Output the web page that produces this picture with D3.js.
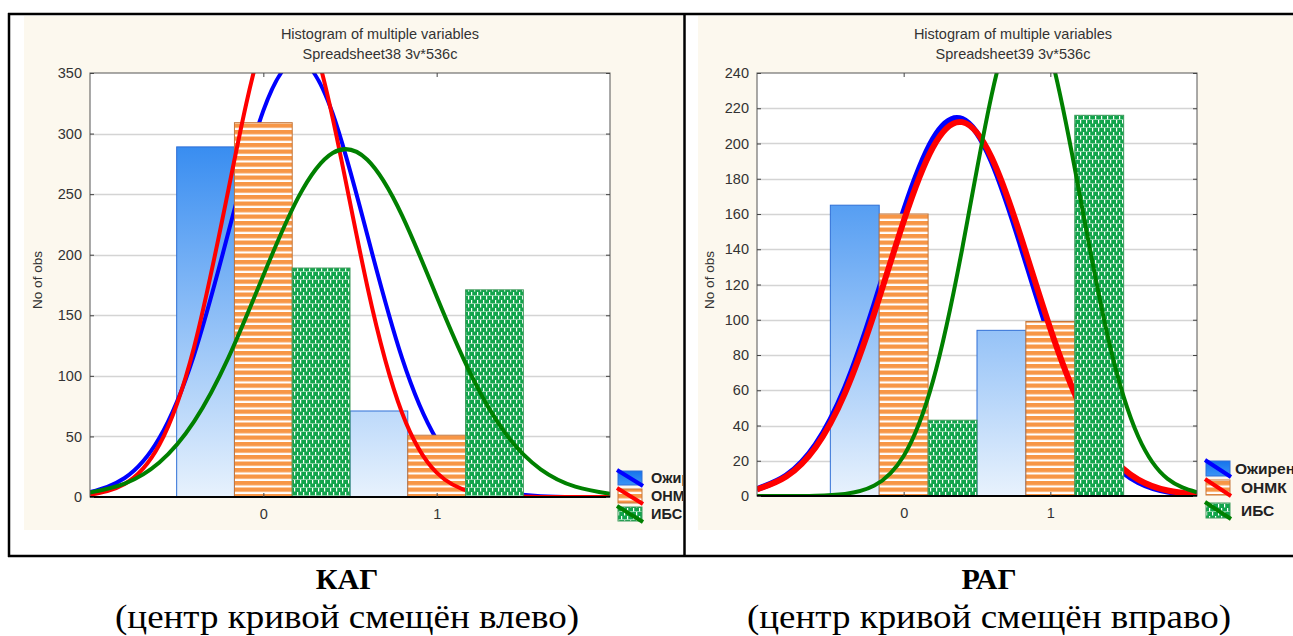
<!DOCTYPE html>
<html>
<head>
<meta charset="utf-8">
<script src="https://cdn.jsdelivr.net/npm/d3@7"></script>
<style>
  body { margin: 0; background: #fff; }
  svg { display: block; }
</style>
</head>
<body>
<svg id="chart" width="1293" height="636"></svg>
<script>
const seriesNames = ['Ожирение', 'ОНМК', 'ИБС']
const bins = [0, 1]
const curveX = [-1, -0.8, -0.6, -0.4, -0.2, 0, 0.2, 0.4, 0.6, 0.8, 1, 1.2, 1.4, 1.6, 1.8, 2]

// КАГ (left)
const kagTicks = [0, 50, 100, 150, 200, 250, 300, 350]
const kagObesity = [289, 71]
const kagStroke = [309, 51]
const kagIhd = [189, 171]
const kagObesityFit = [4.0, 15.7, 48.7, 117.2, 219.3, 318.9, 360.4, 316.6, 216.2, 114.8, 47.4, 15.2, 3.8, 0.7, 0.1, 0.0]
const kagStrokeFit = [2.0, 10.8, 43.1, 123.5, 254.8, 378.8, 405.6, 312.8, 173.8, 69.6, 20.1, 4.2, 0.6, 0.1, 0.0, 0.0]
const kagIhdFit = [3.7, 11.1, 28.5, 62.2, 115.5, 182.9, 246.9, 284.0, 278.4, 232.5, 165.5, 100.4, 51.9, 22.9, 8.6, 2.7]

// РАГ (right)
const ragTicks = [0, 20, 40, 60, 80, 100, 120, 140, 160, 180, 200, 220, 240]
const ragObesity = [165, 94]
const ragStroke = [160, 99]
const ragIhd = [43, 216]
const ragObesityFit = [3.9, 11.6, 29.1, 61.2, 108.4, 161.5, 202.6, 213.9, 190.0, 142.1, 89.5, 47.4, 21.1, 7.9, 2.5, 0.7]
const ragStrokeFit = [3.8, 11.1, 27.7, 58.4, 103.8, 155.9, 197.9, 212.1, 192.0, 146.8, 94.9, 51.8, 23.9, 9.3, 3.1, 0.9]
const ragIhdFit = [0.0, 0.0, 0.2, 1.2, 5.9, 22.7, 65.3, 140.7, 227.6, 275.9, 250.9, 171.1, 87.5, 33.6, 9.7, 2.1]

const svg = d3.select('#chart')
const defs = svg.append('defs')
const sans = 'Liberation Sans, Arial, sans-serif'
const serif = 'Liberation Serif, Times New Roman, serif'

svg.append('rect').attr('width', 1293).attr('height', 636).attr('fill', '#fff')

// orange horizontal stripes
const stripes = defs.append('pattern').attr('id', 'stripes')
  .attr('patternUnits', 'userSpaceOnUse').attr('width', 8).attr('height', 6.5)
stripes.append('rect').attr('width', 8).attr('height', 6.5).attr('fill', '#fff')
stripes.append('rect').attr('width', 8).attr('height', 4.3).attr('fill', '#f79646')

// green bricks
const bricks = defs.append('pattern').attr('id', 'bricks')
  .attr('patternUnits', 'userSpaceOnUse').attr('width', 6).attr('height', 8)
bricks.append('rect').attr('width', 6).attr('height', 8).attr('fill', '#12a44c')
bricks.append('rect').attr('x', 0).attr('y', 0).attr('width', 1.2).attr('height', 3.5).attr('fill', '#fff')
bricks.append('rect').attr('x', 3).attr('y', 4).attr('width', 1.2).attr('height', 3.5).attr('fill', '#fff')
bricks.append('rect').attr('x', 0).attr('y', 7.4).attr('width', 6).attr('height', 0.6).attr('fill', '#c9efd6')

const legendBlue = defs.append('linearGradient').attr('id', 'legend-blue')
  .attr('x1', 0).attr('x2', 0).attr('y1', 0).attr('y2', 1)
legendBlue.append('stop').attr('offset', 0).attr('stop-color', '#1673ec')
legendBlue.append('stop').attr('offset', 1).attr('stop-color', '#3a95f6')

const lineColors = ['#0000ff', '#ff0000', '#008000']
const barStrokes = ['#2f6fd6', '#c5763a', '#3f9a5c']

function drawPanel(p) {
  const g = svg.append('g')
  g.append('rect').attr('x', p.bgX).attr('y', 16).attr('width', p.bgW).attr('height', 514).attr('fill', '#fcf8ee')

  const x = d3.scaleLinear().domain([-1, 2]).range([p.left, p.right])
  const y = d3.scaleLinear().domain([0, p.yMax]).range([p.bottom, p.top])

  g.append('text').attr('x', p.titleX).attr('y', 39).attr('text-anchor', 'middle')
    .attr('font-family', sans).attr('font-size', 14.5).attr('fill', '#333')
    .text('Histogram of multiple variables')
  g.append('text').attr('x', p.titleX).attr('y', 59).attr('text-anchor', 'middle')
    .attr('font-family', sans).attr('font-size', 14.5).attr('fill', '#333')
    .text(p.subtitle)

  g.append('rect').attr('x', p.left).attr('y', p.top)
    .attr('width', p.right - p.left).attr('height', p.bottom - p.top).attr('fill', '#fff')

  g.append('g').selectAll('line').data(p.yTicks.slice(1, -1)).join('line')
    .attr('x1', p.left).attr('x2', p.right)
    .attr('y1', d => Math.round(y(d)) + 0.5).attr('y2', d => Math.round(y(d)) + 0.5)
    .attr('stroke', '#d4d4d4').attr('stroke-width', 1.5)

  const blueId = 'blue-' + p.id
  const grad = defs.append('linearGradient').attr('id', blueId)
    .attr('gradientUnits', 'userSpaceOnUse')
    .attr('x1', 0).attr('x2', 0).attr('y1', p.top).attr('y2', p.bottom)
  grad.append('stop').attr('offset', 0).attr('stop-color', '#1478ee')
  grad.append('stop').attr('offset', 1).attr('stop-color', '#e8f2fd')

  const clipId = 'clip-' + p.id
  defs.append('clipPath').attr('id', clipId).append('rect')
    .attr('x', p.left).attr('y', p.top).attr('width', p.right - p.left).attr('height', p.bottom - p.top)
  const plot = g.append('g').attr('clip-path', `url(#${clipId})`)

  const fills = [`url(#${blueId})`, 'url(#stripes)', 'url(#bricks)']
  const barW = x(1 / 3) - x(0)
  const line = d3.line().x((d, i) => x(curveX[i])).y(d => y(d)).curve(d3.curveNatural)

  p.counts.forEach((counts, s) => {
    plot.append('g').selectAll('rect').data(counts).join('rect')
      .attr('x', (d, b) => x(bins[b] - 0.5 + s / 3))
      .attr('width', barW)
      .attr('y', d => y(d))
      .attr('height', d => y(0) - y(d))
      .attr('fill', fills[s])
      .attr('stroke', barStrokes[s]).attr('stroke-width', 1)
    plot.append('path').datum(p.fits[s]).attr('d', line)
      .attr('fill', 'none').attr('stroke', lineColors[s])
      .attr('stroke-width', p.lineW[s]).attr('stroke-linejoin', 'round')
  })

  // frame and axes
  g.append('rect').attr('x', p.left).attr('y', p.top)
    .attr('width', p.right - p.left).attr('height', p.bottom - p.top)
    .attr('fill', 'none').attr('stroke', '#555')
  g.append('line').attr('x1', p.left).attr('x2', p.right).attr('y1', p.bottom).attr('y2', p.bottom)
    .attr('stroke', '#000').attr('stroke-width', 1.8)

  const yAxis = g.append('g').attr('transform', `translate(${p.left},0)`)
    .call(d3.axisLeft(y).tickValues(p.yTicks).tickSize(-4).tickPadding(8))
  yAxis.select('.domain').remove()
  g.append('g').attr('transform', `translate(${p.right},0)`)
    .call(d3.axisRight(y).tickValues(p.yTicks).tickSize(-4).tickFormat(''))
    .select('.domain').remove()
  const xAxis = g.append('g').attr('transform', `translate(0,${p.bottom})`)
    .call(d3.axisBottom(x).tickValues(bins).tickFormat(d3.format('d')).tickSize(-4).tickPadding(12))
  xAxis.select('.domain').remove()
  g.append('g').attr('transform', `translate(0,${p.top})`)
    .call(d3.axisTop(x).tickValues(bins).tickSize(-4).tickFormat(''))
    .select('.domain').remove()
  g.selectAll('.tick line').attr('stroke', '#444')
  g.selectAll('.tick text').attr('font-family', sans).attr('font-size', 14.5).attr('fill', '#333')

  g.append('text')
    .attr('transform', `translate(${p.yLabelX},280) rotate(-90)`)
    .attr('text-anchor', 'middle').attr('font-family', sans).attr('font-size', 13.5).attr('fill', '#333')
    .text('No of obs')

  // legend
  const legClip = 'legclip-' + p.id
  defs.append('clipPath').attr('id', legClip).append('rect')
    .attr('x', p.bgX).attr('y', 16).attr('width', p.bgW).attr('height', 514)
  const leg = g.append('g').attr('clip-path', `url(#${legClip})`)
  const legFills = ['url(#legend-blue)', 'url(#stripes)', 'url(#bricks)']
  seriesNames.forEach((name, s) => {
    const ly = p.legendRows[s]
    leg.append('rect').attr('x', p.legendX).attr('y', ly).attr('width', p.iconW).attr('height', p.iconH)
      .attr('fill', legFills[s]).attr('stroke', barStrokes[s])
    leg.append('line').attr('x1', p.legendX - 1).attr('y1', ly - 1)
      .attr('x2', p.legendX + p.iconW + 1).attr('y2', ly + p.iconH + 1)
      .attr('stroke', lineColors[s]).attr('stroke-width', 4)
    leg.append('text').attr('x', p.legendTextX[s]).attr('y', ly + p.iconH / 2)
      .attr('dy', '0.36em').attr('font-family', sans).attr('font-weight', 'bold')
      .attr('font-size', p.legendFont).attr('fill', '#222').text(name)
  })
}

drawPanel({
  id: 'kag', bgX: 24, bgW: 659,
  left: 90, right: 610, top: 73, bottom: 497, yMax: 350, yTicks: kagTicks,
  titleX: 380, subtitle: 'Spreadsheet38 3v*536c', yLabelX: 42,
  counts: [kagObesity, kagStroke, kagIhd],
  fits: [kagObesityFit, kagStrokeFit, kagIhdFit],
  lineW: [4, 4, 4],
  legendX: 618, legendRows: [471, 489, 507], iconW: 24, iconH: 14,
  legendTextX: [651, 651, 651], legendFont: 14.5
})

drawPanel({
  id: 'rag', bgX: 698, bgW: 595,
  left: 757, right: 1197, top: 73, bottom: 496, yMax: 240, yTicks: ragTicks,
  titleX: 1013, subtitle: 'Spreadsheet39 3v*536c', yLabelX: 714,
  counts: [ragObesity, ragStroke, ragIhd],
  fits: [ragObesityFit, ragStrokeFit, ragIhdFit],
  lineW: [6, 6, 4],
  legendX: 1206, legendRows: [461, 480, 503], iconW: 24, iconH: 15,
  legendTextX: [1235, 1241, 1241], legendFont: 15.5
})

// table borders
const border = svg.append('g').attr('stroke', '#000').attr('stroke-width', 2.5)
border.append('line').attr('x1', 8).attr('x2', 1293).attr('y1', 14).attr('y2', 14)
border.append('line').attr('x1', 8).attr('x2', 1293).attr('y1', 556).attr('y2', 556)
border.append('line').attr('x1', 9).attr('x2', 9).attr('y1', 13).attr('y2', 557)
border.append('line').attr('x1', 684.5).attr('x2', 684.5).attr('y1', 13).attr('y2', 557)

// captions
const captions = [
  { x: 347, title: 'КАГ', note: '(центр кривой смещён влево)', width: 464 },
  { x: 989, title: 'РАГ', note: '(центр кривой смещён вправо)', width: 484 }
]
captions.forEach(c => {
  svg.append('text').attr('x', c.x).attr('y', 589).attr('text-anchor', 'middle')
    .attr('font-family', serif).attr('font-weight', 'bold').attr('font-size', 30).attr('fill', '#000')
    .text(c.title)
  svg.append('text').attr('x', c.x).attr('y', 628).attr('text-anchor', 'middle')
    .attr('font-family', serif).attr('font-size', 34)
    .attr('textLength', c.width).attr('lengthAdjust', 'spacingAndGlyphs').attr('fill', '#000')
    .text(c.note)
})
</script>
</body>
</html>
